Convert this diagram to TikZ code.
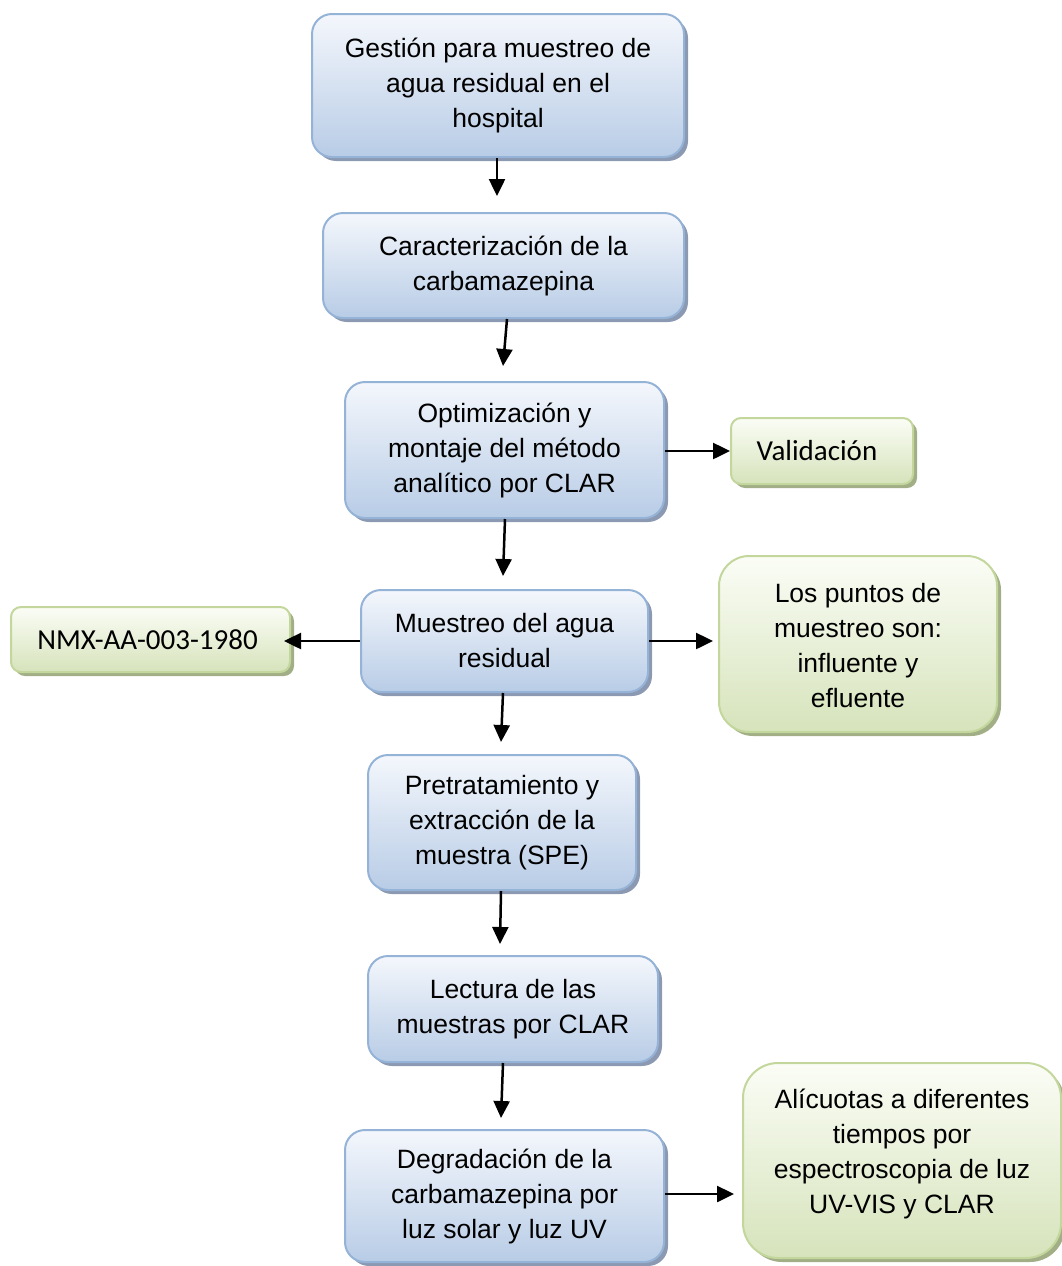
\documentclass[tikz,border=0pt]{standalone}
\usepackage{fontspec}
\setmainfont{Liberation Sans}
\newfontfamily\calibri{Carlito}
\usetikzlibrary{arrows.meta,shadows}
\definecolor{topblue}{HTML}{F4F7FC}
\definecolor{botblue}{HTML}{B8CCE6}
\definecolor{edgeblue}{HTML}{95B3D7}
\definecolor{shblue}{HTML}{8595AE}
\definecolor{topgreen}{HTML}{FBFDF6}
\definecolor{botgreen}{HTML}{D6E3BB}
\definecolor{edgegreen}{HTML}{C3D69B}
\definecolor{shgreen}{HTML}{9DAB80}
\begin{document}
\begin{tikzpicture}[x=1pt,y=-1pt,
  basebox/.style={line width=2pt, align=center, inner sep=0pt},
  bluebox/.style={basebox, rounded corners=20pt, draw=edgeblue, top color=topblue, bottom color=botblue,
    drop shadow={shadow xshift=4pt, shadow yshift=-4pt, fill=shblue, opacity=0.95},
    font=\fontsize{26.5}{35}\selectfont},
  greenbox/.style={basebox, draw=edgegreen, top color=topgreen, bottom color=botgreen,
    drop shadow={shadow xshift=4pt, shadow yshift=-4pt, fill=shgreen, opacity=0.95}},
  plaintext/.style={align=center, inner sep=0pt, font=\fontsize{26.5}{35}\selectfont},
  arr/.style={line width=2.5pt, -{Triangle[length=17pt,width=16pt]}}]
\useasboundingbox (0,0) rectangle (1061,1266);

\node[bluebox, minimum width=372pt, minimum height=143pt] (g) at (498,85.5)
  {Gestión para muestreo de\\agua residual en el\\hospital};
\node[bluebox, minimum width=361pt, minimum height=105pt] (c) at (503.5,265.5)
  {Caracterización de la\\carbamazepina};
\node[bluebox, minimum width=319pt, minimum height=136pt] (o) at (504.5,450)
  {Optimización y\\montaje del método\\analítico por CLAR};
\node[greenbox, rounded corners=10pt, minimum width=182pt, minimum height=66pt,
  font=\calibri\fontsize{29}{35}\selectfont] (v) at (822,451)
  {\hspace*{-10pt}Validación};
\node[bluebox, minimum width=287pt, minimum height=102pt] (m) at (504.5,641)
  {Muestreo del agua\\residual};
\node[greenbox, rounded corners=10pt, minimum width=279pt, minimum height=65pt,
  font=\calibri\fontsize{29}{35}\selectfont] (n) at (150.5,639.5)
  {\hspace*{-6pt}NMX-AA-003-1980};
\node[greenbox, rounded corners=30pt, minimum width=278pt, minimum height=176pt] (l) at (858,644) {};
\node[plaintext] (lt) at (858,646)
  {Los puntos de\\muestreo son:\\influente y\\efluente};
\node[bluebox, minimum width=268pt, minimum height=135pt] (p) at (502,822.5)
  {Pretratamiento y\\extracción de la\\muestra (SPE)};
\node[bluebox, minimum width=290pt, minimum height=106pt] (r) at (513,1009)
  {Lectura de las\\muestras por CLAR};
\node[bluebox, minimum width=319pt, minimum height=132pt] (d) at (504.5,1196)
  {Degradación de la\\carbamazepina por\\luz solar y luz UV};
\node[greenbox, rounded corners=35pt, minimum width=318pt, minimum height=195pt] (a) at (902,1160.5) {};
\node[plaintext] (at) at (902,1154)
  {Alícuotas a diferentes\\tiempos por\\espectroscopia de luz\\UV-VIS y CLAR};

\coordinate (t1) at (497,196);
\coordinate (t2) at (503,366);
\coordinate (t4) at (503,576);
\coordinate (t7) at (501,742);
\coordinate (t8) at (500,944);
\coordinate (t9) at (501,1118);

\draw[arr] (g.south -| t1) -- (t1);
\draw[arr] ([xshift=3.5pt]c.south) -- (t2);
\draw[arr] (o.east |- v.west) -- (v.west);
\draw[arr] ([xshift=0.5pt]o.south) -- (t4);
\draw[arr] (m.west) -- ([xshift=-7pt]n.east |- m.west);
\draw[arr] (m.east) -- ([xshift=-5pt]l.west |- m.east);
\draw[arr] ([xshift=-1.5pt]m.south) -- (t7);
\draw[arr] ([xshift=-1pt]p.south) -- (t8);
\draw[arr] ([xshift=-10pt]r.south) -- (t9);
\draw[arr] (d.east |- 0,1194) -- ([xshift=-8pt]a.west |- 0,1194);
\end{tikzpicture}
\end{document}
